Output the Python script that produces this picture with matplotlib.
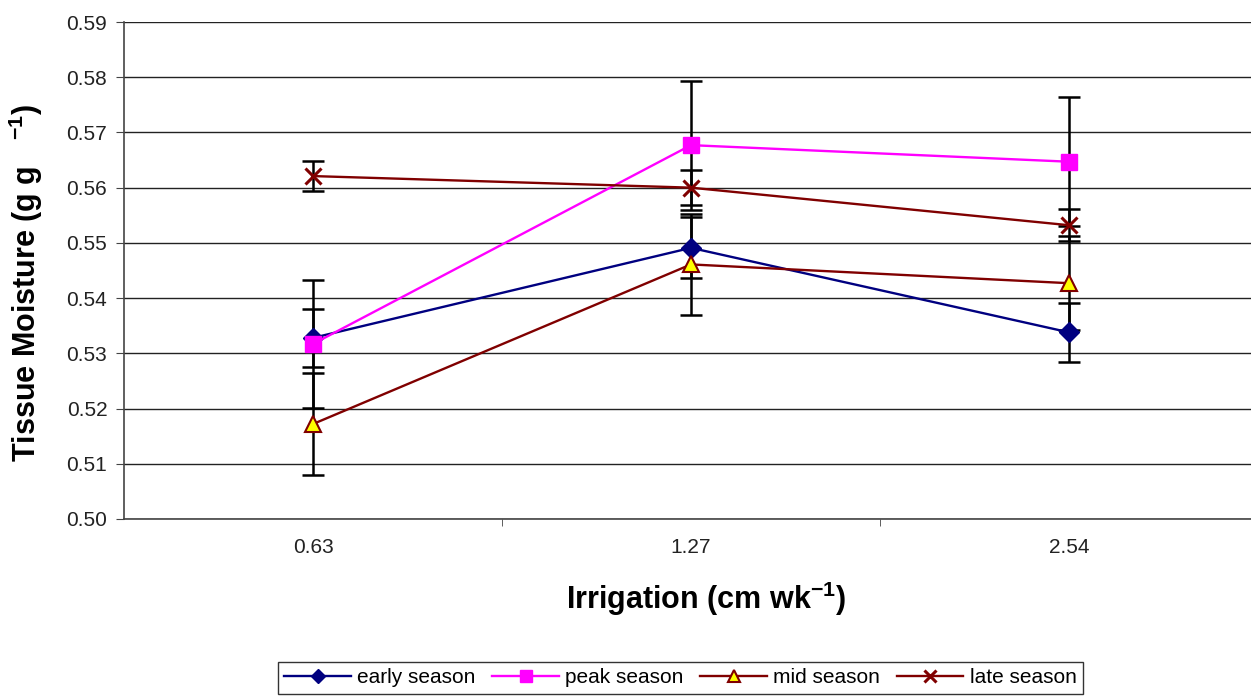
import matplotlib
matplotlib.use("Agg")
import matplotlib.pyplot as plt
import numpy as np

plt.rcParams['font.family'] = ['Liberation Sans', 'DejaVu Sans']
plt.rcParams['mathtext.fontset'] = 'custom'
plt.rcParams['mathtext.rm'] = 'Liberation Sans'
plt.rcParams['mathtext.bf'] = 'Liberation Sans:bold'

categories = ["0.63", "1.27", "2.54"]
series_names = ["early season", "peak season", "mid season", "late season"]
early = [0.5328, 0.5491, 0.5338]
early_err = [0.0052, 0.0055, 0.0053]
peak = [0.5317, 0.5677, 0.5647]
peak_err = [0.0116, 0.0117, 0.0117]
mid = [0.5172, 0.5461, 0.5427]
mid_err = [0.0092, 0.0091, 0.0085]
late = [0.5621, 0.5600, 0.5532]
late_err = [0.0027, 0.0032, 0.0029]
yticks = [0.50, 0.51, 0.52, 0.53, 0.54, 0.55, 0.56, 0.57, 0.58, 0.59]

fig = plt.figure(figsize=(12.51, 6.99), dpi=100)
ax = fig.add_axes([124/1251, (699-519)/699, 1134/1251, 497/699])

x = np.arange(1, len(categories) + 1)

styles = [
    dict(color='#000080', marker='D', mfc='#000080', mec='#000080', ms=10),
    dict(color='#FF00FF', marker='s', mfc='#FF00FF', mec='#FF00FF', ms=11),
    dict(color='#800000', marker='^', mfc='#FFFF00', mec='#800000', ms=12, mew=1.5),
    dict(color='#800000', marker='x', mfc='#800000', mec='#800000', ms=11, mew=2.2),
]
vals = [early, peak, mid, late]
errs = [early_err, peak_err, mid_err, late_err]

for v, e in zip(vals, errs):
    ax.errorbar(x, v, yerr=e, fmt='none', ecolor='black', elinewidth=1.8,
                capsize=8, capthick=1.8, zorder=2)
for name, v, st in zip(series_names, vals, styles):
    ax.plot(x, v, lw=1.7, label=name, zorder=3, **st)

ax.set_xlim(0.5, 3.5)
ax.set_ylim(0.50, 0.59)
ax.set_yticks(yticks)
ax.set_yticklabels([f"{t:.2f}" for t in yticks])
ax.yaxis.grid(True, color='#222222', lw=1.0)
ax.set_axisbelow(True)
for s in ['top', 'right']:
    ax.spines[s].set_visible(False)
for s in ['left', 'bottom']:
    ax.spines[s].set_color('#444444')
    ax.spines[s].set_linewidth(1.2)

ax.set_xticks(x)
ax.set_xticklabels(categories)
ax.set_xticks([1.5, 2.5], minor=True)
ax.tick_params(axis='x', which='major', length=0, pad=14, labelsize=15, labelcolor='#222222')
ax.tick_params(axis='x', which='minor', length=5, direction='out', color='#444444')
ax.tick_params(axis='y', length=6, labelsize=15, color='#444444', labelcolor='#222222', pad=6)

ax.set_ylabel('Tissue Moisture (g g   $^{\\mathbf{-1}}$)', fontsize=22, fontweight='bold')
ax.yaxis.set_label_coords(-0.0697, 0.475)
ax.set_xlabel('Irrigation (cm wk$^{\\mathbf{-1}}$)', fontsize=22, fontweight='bold')
ax.xaxis.set_label_coords(0.513, -0.123)

leg = fig.legend(loc='upper left', bbox_to_anchor=(278/1251, 1 - 662/699), ncol=4,
                 fontsize=15, frameon=True, fancybox=False, edgecolor='black',
                 handlelength=3.2, columnspacing=0.8, handletextpad=0.3,
                 borderpad=0.3, borderaxespad=0, markerscale=0.75)
leg.get_frame().set_linewidth(1.0)

fig.savefig('out.png', dpi=100)
